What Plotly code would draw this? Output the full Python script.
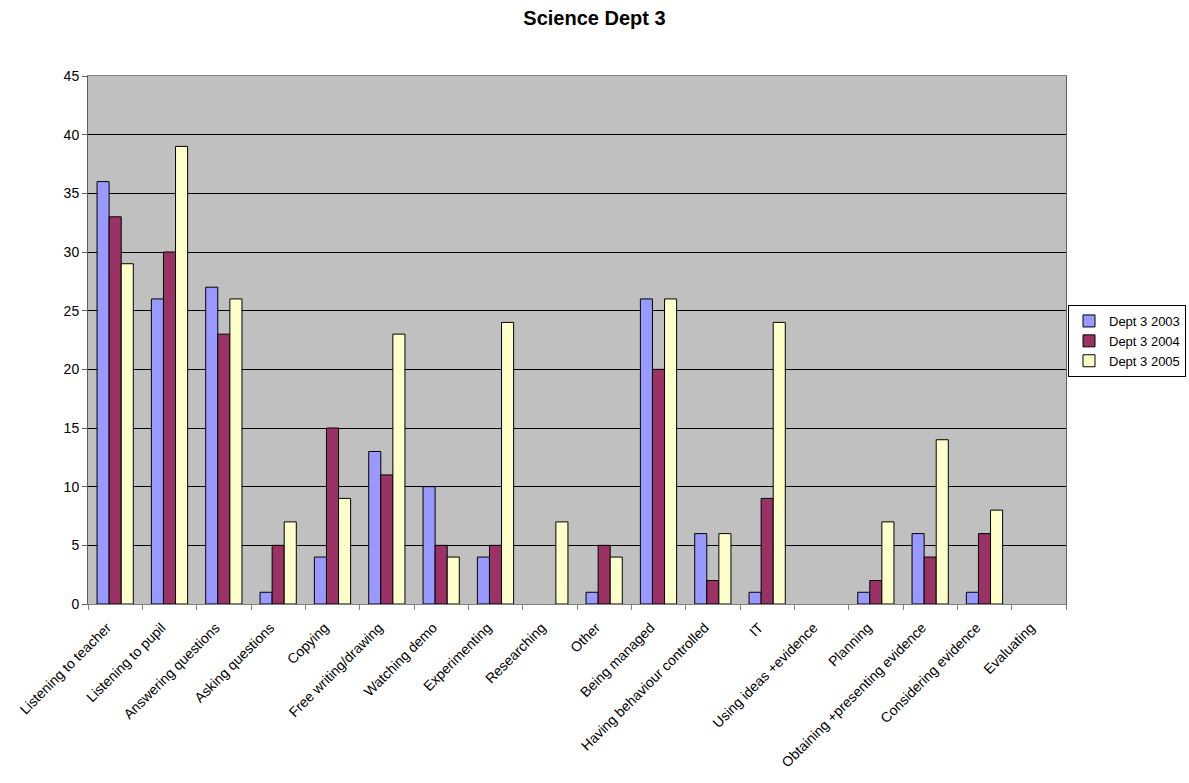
import plotly.graph_objects as go

categories = [
    "Listening to teacher", "Listening to pupil", "Answering questions",
    "Asking questions", "Copying", "Free writing/drawing", "Watching demo",
    "Experimenting", "Researching", "Other", "Being managed",
    "Having behaviour controlled", "IT", "Using ideas +evidence", "Planning",
    "Obtaining +presenting evidence", "Considering evidence", "Evaluating",
]
dept_2003 = [36, 26, 27, 1, 4, 13, 10, 4, 0, 1, 26, 6, 1, 0, 1, 6, 1, 0]
dept_2004 = [33, 30, 23, 5, 15, 11, 5, 5, 0, 5, 20, 2, 9, 0, 2, 4, 6, 0]
dept_2005 = [29, 39, 26, 7, 9, 23, 4, 24, 7, 4, 26, 6, 24, 0, 7, 14, 8, 0]

series = [
    ("Dept 3 2003", dept_2003, "#9999FF"),
    ("Dept 3 2004", dept_2004, "#993366"),
    ("Dept 3 2005", dept_2005, "#FFFFCC"),
]

FONT = "Liberation Sans, Arial, sans-serif"

fig = go.Figure()
for name, vals, color in series:
    # zero-height bars get no outline so nothing shows on the baseline
    outline = [1 if v else 0 for v in vals]
    fig.add_trace(go.Bar(
        name=name, x=categories, y=vals,
        marker=dict(color=color, line=dict(color="black", width=outline)),
    ))

fig.update_layout(
    width=1189, height=783,
    margin=dict(l=88, r=123, t=76, b=179, autoexpand=False),
    paper_bgcolor="white",
    plot_bgcolor="#C0C0C0",
    barmode="group",
    bargap=0.333,
    bargroupgap=0,
    font=dict(family=FONT, size=14, color="black"),
    title=dict(
        text="<b>Science Dept 3</b>", x=0.5, xanchor="center",
        y=1 - 18 / 783, yanchor="middle",
        font=dict(family=FONT, size=20, color="black"),
    ),
    legend=dict(
        xref="container", yref="container",
        x=1068 / 1189, y=1 - 305 / 783, xanchor="left", yanchor="top",
        bgcolor="white", bordercolor="black", borderwidth=1,
        font=dict(family=FONT, size=13, color="black"),
        itemwidth=30,
        tracegroupgap=0,
    ),
    showlegend=True,
)

fig.update_xaxes(
    type="category",
    tickangle=-45,
    tickson="boundaries",
    ticks="outside", ticklen=5, tickcolor="#808080",
    ticklabelshift=-8, ticklabelstandoff=9,
    showline=True, linecolor="#808080", linewidth=1, mirror=True,
    showgrid=False,
    tickfont=dict(family=FONT, size=14, color="black"),
)
fig.update_yaxes(
    range=[0, 45], dtick=5,
    ticks="outside", ticklen=5, tickcolor="#606060",
    showline=True, linecolor="#606060", linewidth=1, mirror=True,
    showgrid=True, gridcolor="black", gridwidth=1,
    zeroline=False,
    tickfont=dict(family=FONT, size=14, color="black"),
)

fig.write_html("out.html")
